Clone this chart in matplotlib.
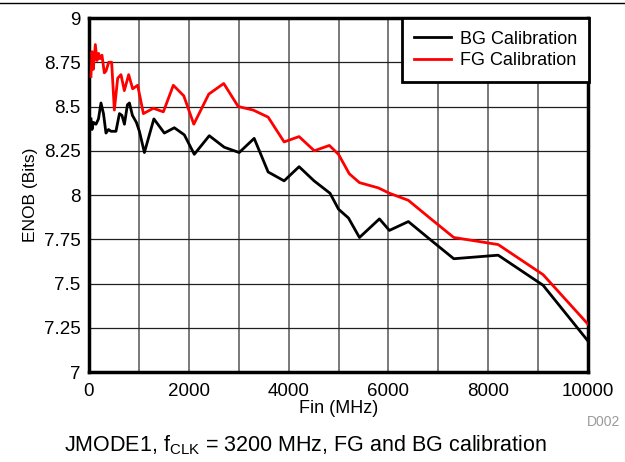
import matplotlib
matplotlib.use('Agg')
import matplotlib.pyplot as plt
from matplotlib.lines import Line2D

plt.rcParams['font.family'] = ['Liberation Sans', 'DejaVu Sans']
plt.rcParams['mathtext.fontset'] = 'custom'
plt.rcParams['mathtext.rm'] = 'Liberation Sans'

# BG calibration (black)
bg_fin = [40, 60, 90, 140, 190, 240, 290, 340, 390, 440, 540, 610, 660, 710,
          770, 810, 870, 950, 1010, 1110, 1300, 1510, 1710, 1910, 2110, 2410,
          2710, 3010, 3310, 3590, 3910, 4210, 4510, 4830, 5000, 5200, 5420,
          5820, 6020, 6400, 6830, 7310, 8200, 9100, 10000]
bg_enob = [8.43, 8.37, 8.41, 8.40, 8.43, 8.52, 8.46, 8.35, 8.37, 8.36, 8.36,
           8.46, 8.45, 8.40, 8.51, 8.52, 8.45, 8.41, 8.36, 8.24, 8.43, 8.35,
           8.38, 8.34, 8.23, 8.335, 8.27, 8.24, 8.32, 8.13, 8.08, 8.16, 8.08,
           8.01, 7.92, 7.87, 7.76, 7.865, 7.80, 7.85, 7.75, 7.64, 7.66, 7.49,
           7.175]

# FG calibration (red)
fg_fin = [40, 60, 86, 127, 160, 193, 220, 260, 307, 340, 395, 454, 508, 575,
          641, 708, 795, 875, 975, 1090, 1290, 1490, 1690, 1900, 2100, 2400,
          2700, 2990, 3290, 3590, 3910, 4210, 4515, 4816, 5000, 5216, 5420,
          5800, 6020, 6400, 6830, 7310, 8200, 9100, 10000]
fg_enob = [8.67, 8.81, 8.71, 8.85, 8.76, 8.80, 8.77, 8.79, 8.69, 8.70, 8.75,
           8.75, 8.48, 8.66, 8.68, 8.59, 8.68, 8.60, 8.62, 8.46, 8.49, 8.47,
           8.62, 8.56, 8.40, 8.57, 8.63, 8.50, 8.48, 8.44, 8.30, 8.33, 8.25,
           8.28, 8.23, 8.12, 8.07, 8.04, 8.01, 7.97, 7.87, 7.76, 7.72, 7.55,
           7.27]

x_ticks = [0, 2000, 4000, 6000, 8000, 10000]
y_ticks = [7, 7.25, 7.5, 7.75, 8, 8.25, 8.5, 8.75, 9]
y_labels = ['7', '7.25', '7.5', '7.75', '8', '8.25', '8.5', '8.75', '9']

fig = plt.figure(figsize=(6.25, 4.62), dpi=100)
ax = fig.add_axes([0.1424, 0.1948, 0.7984, 0.7662])

# grid: vertical every 1000, horizontal every 0.25
for xv in range(1000, 10000, 1000):
    ax.axvline(xv, color='#6e6e6e', linewidth=1.3, zorder=1)
for yv in y_ticks[1:-1]:
    ax.axhline(yv, color='#202020', linewidth=0.9, zorder=1)

ax.plot(bg_fin, bg_enob, color='black', linewidth=2, label='BG Calibration', zorder=3)
ax.plot(fg_fin, fg_enob, color='#ff0000', linewidth=2, label='FG Calibration', zorder=3)

ax.set_xlim(0, 10000)
ax.set_ylim(7, 9)
ax.set_xticks(x_ticks)
ax.set_yticks(y_ticks)
ax.set_yticklabels(y_labels)
ax.tick_params(length=0, labelsize=13.5)
ax.tick_params(axis='x', pad=8)
ax.tick_params(axis='y', pad=6)
for sp in ax.spines.values():
    sp.set_linewidth(2.5)

ax.set_xlabel('Fin (MHz)', fontsize=13, labelpad=0)
ax.set_ylabel('ENOB (Bits)', fontsize=12.5, labelpad=4)

leg = ax.legend(loc='upper right', fontsize=13, frameon=True, fancybox=False,
                borderaxespad=0, handlelength=2.0, handletextpad=0.5,
                borderpad=0.7, labelspacing=0.25, bbox_to_anchor=(1.003, 1.0))
leg.get_frame().set_edgecolor('black')
leg.get_frame().set_linewidth(2)
leg.get_frame().set_alpha(1)
leg.set_zorder(5)

# page rule at the top
fig.add_artist(Line2D([0, 1], [0.993, 0.993], color='black', linewidth=1))

fig.text(0.965, 0.087, 'D002', color='#9a9a9a', fontsize=10, ha='center', va='center')
fig.text(0.488, 0.037, r'JMODE1, $\mathregular{f_{CLK}}$ = 3200 MHz, FG and BG calibration',
         fontsize=15.5, ha='center', va='center')

fig.savefig('out.png', dpi=100)
